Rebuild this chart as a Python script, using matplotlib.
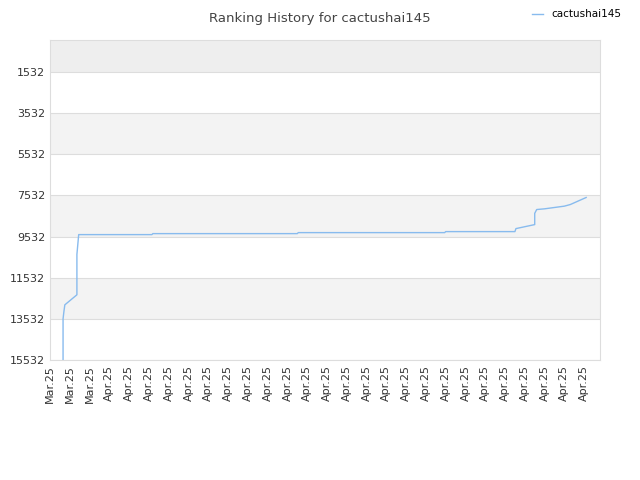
import matplotlib
matplotlib.use("Agg")
import matplotlib.pyplot as plt

tick_labels = ["Mar.25"] * 3 + ["Apr.25"] * 25
xs = [0.66, 0.66, 0.7, 0.75, 1.36, 1.36, 1.4, 1.45, 5.15, 5.2, 12.5, 12.55, 19.95, 20.0,
      23.5, 23.55, 24.5, 24.5, 24.6, 25.0, 26.0, 26.3, 27.1]
ranks = [15532, 13532, 13200, 12849, 12361, 10400, 9971, 9434, 9434, 9386, 9386, 9337, 9337, 9288,
         9288, 9142, 8947, 8400, 8215, 8180, 8050, 7971, 7629]

fig = plt.figure(figsize=(6.4, 4.8), dpi=100)
ax = fig.add_axes([50/640, 120/480, 550/640, 320/480])
yticks = [1532, 3532, 5532, 7532, 9532, 11532, 13532, 15532]
ax.set_ylim(15532, -30)
ax.set_xlim(0, 27.8)
for lo, hi, c in [(-30, 1532, "#eeeeee"), (3532, 5532, "#f3f3f3"), (7532, 9532, "#f3f3f3"), (11532, 13532, "#f3f3f3")]:
    ax.axhspan(lo, hi, color=c, zorder=0, lw=0)
ax.set_yticks(yticks)
ax.set_yticklabels([str(v) for v in yticks])
ax.set_xticks(range(len(tick_labels)))
ax.set_xticklabels(tick_labels, rotation=90)
ax.grid(axis="y", color="#dddddd", lw=0.8)
ax.set_axisbelow(True)
ax.tick_params(labelsize=8, colors="#333333", length=0)
for s in ax.spines.values():
    s.set_color("#dddddd")
ax.plot(xs, ranks, color="#88bbee", lw=1, label="cactushai145")
fig.text(0.5, 0.975, "Ranking History for cactushai145", ha="center", va="top", fontsize=9.5, color="#444444")
fig.legend(loc="upper right", bbox_to_anchor=(0.985, 1.0), frameon=False, fontsize=7.5, handlelength=1)
fig.savefig("out.png", dpi=100)
